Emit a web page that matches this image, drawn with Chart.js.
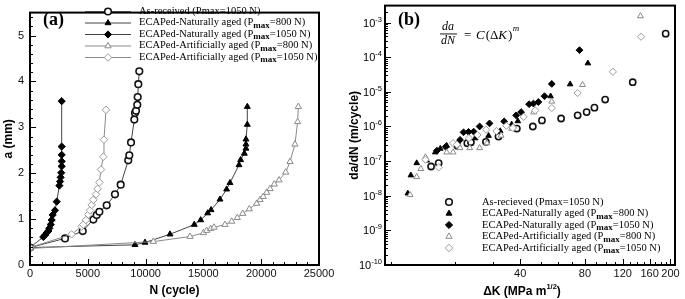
<!DOCTYPE html>
<html><head><meta charset="utf-8">
<script src="https://cdn.jsdelivr.net/npm/chart.js@4.4.1/dist/chart.umd.min.js"></script>
<style>
html,body{margin:0;padding:0;background:#fff;}
#wrap{position:relative;width:685px;height:299px;overflow:hidden;background:#fff;}
#c1wrap{position:absolute;left:0;top:0;width:345px;height:299px;}
#c2wrap{position:absolute;left:345px;top:0;width:340px;height:299px;}
</style></head><body>
<div id="wrap"><div id="c1wrap"><canvas id="c1"></canvas></div><div id="c2wrap"><canvas id="c2"></canvas></div></div>
<script>
// ---------- Panel (a): crack length a (mm) vs N (cycle) ----------
const asRecN = [0, 3030, 4560, 5480, 5770, 6000, 6635, 7350, 7845, 8500, 8590, 8740, 9025, 9080, 9170, 9280, 9315, 9370, 9455];
const asRecA = [0.38, 0.58, 0.74, 0.99, 1.09, 1.16, 1.30, 1.54, 1.75, 2.28, 2.39, 2.67, 3.17, 3.31, 3.36, 3.49, 3.66, 3.94, 4.22];

const nat800N = [0, 9080, 9950, 12110, 14210, 14765, 15370, 15660, 16435, 17010, 17300, 18080, 18220, 18540, 18680, 18680, 18680, 18800, 18800];
const nat800A = [0.38, 0.44, 0.49, 0.67, 0.88, 0.98, 1.13, 1.20, 1.43, 1.65, 1.79, 2.18, 2.29, 2.43, 2.54, 2.63, 2.74, 3.06, 3.45];

const nat1050N = [0, 1150, 1300, 1440, 1585, 1670, 1790, 1875, 1960, 2160, 2310, 2540, 2600, 2650, 2700, 2740, 2740, 2740, 2740, 2740];
const nat1050A = [0.38, 0.61, 0.65, 0.70, 0.74, 0.80, 0.88, 0.98, 1.09, 1.19, 1.38, 1.73, 1.82, 1.91, 2.01, 2.15, 2.26, 2.40, 2.58, 3.57];

const art800N = [0, 10670, 13840, 15000, 15280, 15630, 15920, 16870, 17450, 17930, 18400, 18970, 19610, 19900, 20180, 20470, 20760, 21130, 21540, 22120, 22490, 22920, 23150, 23210];
const art800A = [0.36, 0.51, 0.62, 0.70, 0.75, 0.79, 0.82, 0.88, 0.95, 1.03, 1.12, 1.22, 1.34, 1.42, 1.49, 1.58, 1.66, 1.76, 1.85, 2.02, 2.25, 2.63, 3.12, 3.45];

const art1050N = [0, 3600, 4470, 4610, 4840, 5050, 5190, 5340, 5480, 5710, 5850, 6000, 6140, 6340, 6400, 6575];
const art1050A = [0.38, 0.67, 0.84, 0.88, 0.98, 1.10, 1.19, 1.31, 1.42, 1.54, 1.66, 1.80, 2.08, 2.36, 2.73, 3.38];

const aXTicks = [0, 5000, 10000, 15000, 20000, 25000];
const aYTicks = [0, 1, 2, 3, 4, 5];

// ---------- Panel (b): da/dN (m/cycle) vs ΔK ----------
const bAsRecK = [15.4, 16.7, 20.4, 22.7, 23.6, 27.7, 31.7, 38.6, 45.8, 50.5, 62, 74, 81.5, 88.6, 99.4, 133.5, 190];
const bAsRecR = [7.0e-8, 8.8e-8, 2.8e-7, 3.3e-7, 3.5e-7, 3.6e-7, 5.1e-7, 8.7e-7, 1.0e-6, 1.5e-6, 1.7e-6, 2.1e-6, 2.6e-6, 3.5e-6, 6.0e-6, 1.9e-5, 4.8e-4];

const bNat800K = [12.0, 12.4, 13.2, 14.7, 16.1, 17.0, 18.2, 24.7, 28.5, 32.3, 36.5, 39.0, 55.4, 68.3, 82.6];
const bNat800R = [1.17e-8, 3.9e-8, 8.8e-8, 1.05e-7, 1.8e-7, 2.3e-7, 2.8e-7, 4.6e-7, 5.4e-7, 7.4e-7, 1.15e-6, 1.43e-6, 7.5e-6, 1.66e-5, 6.7e-5];

const bNat1050K = [16.4, 18.0, 21.0, 21.8, 23.0, 24.3, 25.9, 28.8, 33.7, 38.3, 40.4, 44.0, 46.1, 48.6, 51.9, 56.1, 75.5];
const bNat1050R = [2.0e-7, 2.6e-7, 4.1e-7, 6.8e-7, 7.0e-7, 7.1e-7, 1.0e-6, 1.23e-6, 1.4e-6, 2.1e-6, 2.6e-6, 4.4e-6, 4.6e-6, 5.1e-6, 7.5e-6, 1.7e-5, 1.6e-4];

const bArt800K = [12.3, 13.2, 13.8, 14.5, 18.2, 19.5, 21.0, 23.3, 25.9, 28.0, 32.6, 36.5, 37.2, 46.2, 56.1, 78.0, 145];
const bArt800R = [1.06e-8, 3.5e-8, 6.0e-8, 1.3e-7, 1.8e-7, 1.8e-7, 2.4e-7, 2.4e-7, 2.4e-7, 3.3e-7, 5.5e-7, 8.7e-7, 1.0e-6, 2.6e-6, 5.3e-6, 1.6e-5, 1.55e-3];

const bArt1050K = [14.5, 16.7, 19.5, 20.3, 23.1, 25.3, 27.8, 31.0, 34.5, 37.0, 41.5, 47.0, 56.1, 74.0, 108, 146];
const bArt1050R = [1.1e-7, 6.6e-8, 3.3e-7, 3.0e-7, 4.6e-7, 5.7e-7, 8.1e-7, 7.4e-7, 1.05e-6, 9.1e-7, 1.9e-6, 2.9e-6, 3.4e-6, 9.3e-6, 3.8e-5, 3.9e-4];

const bXTicks = [40, 80, 120, 160, 200];
const bYExp = [-10, -9, -8, -7, -6, -5, -4, -3];

// ---------- helpers ----------
const SANS = '"Liberation Sans", Arial, sans-serif';
const SERIF = '"Liberation Serif", "Times New Roman", serif';
const zip = (xs, ys) => xs.map((x, i) => ({x: x, y: ys[i]}));

const styles = [
  {pointStyle: 'circle', radius: 3.3, bg: '#ffffff', border: '#111', line: '#444', bw: 1.6},
  {pointStyle: 'triangle', radius: 3.4, bg: '#000', border: '#000', line: '#444', bw: 1},
  {pointStyle: 'rectRot', radius: 3.6, bg: '#000', border: '#000', line: '#444', bw: 1},
  {pointStyle: 'triangle', radius: 3.6, bg: '#ffffff', border: '#8a8a8a', line: '#8a8a8a', bw: 1},
  {pointStyle: 'rectRot', radius: 3.8, bg: '#ffffff', border: '#9a9a9a', line: '#8a8a8a', bw: 1}
];

function mkDs(label, data, st, showLine) {
  return {
    label: label, data: data, showLine: showLine,
    borderColor: st.line, borderWidth: 1, backgroundColor: st.bg,
    pointStyle: st.pointStyle, pointRadius: st.radius,
    pointBackgroundColor: st.bg, pointBorderColor: st.border, pointBorderWidth: st.bw,
    tension: 0, fill: false
  };
}

function drawMarker(ctx, st, x, y) {
  ctx.save();
  ctx.fillStyle = st.bg; ctx.strokeStyle = st.border; ctx.lineWidth = st.bw;
  Chart.helpers.drawPoint(ctx, {pointStyle: st.pointStyle, radius: st.radius, rotation: 0, borderWidth: st.bw}, x, y);
  ctx.restore();
}

// text with subscript parts
function drawRich(ctx, parts, x, y, size, subSize) {
  let cx = x;
  parts.forEach(p => {
    if (p[1] === 'sub') {
      ctx.font = 'bold ' + subSize + 'px ' + SERIF;
      ctx.fillText(p[0], cx, y + 3);
    } else {
      ctx.font = size + 'px ' + SERIF;
      ctx.fillText(p[0], cx, y);
    }
    cx += ctx.measureText(p[0]).width;
  });
}

function legendParts(i, recieved) {
  const L = [
    [[recieved ? 'As-recieved (Pmax=1050 N)' : 'As-received (Pmax=1050 N)', '']],
    [['ECAPed-Naturally aged (P', ''], ['max', 'sub'], ['=800 N)', '']],
    [['ECAPed-Naturally aged (P', ''], ['max', 'sub'], ['=1050 N)', '']],
    [['ECAPed-Artificially aged (P', ''], ['max', 'sub'], ['=800 N)', '']],
    [['ECAPed-Artificially aged (P', ''], ['max', 'sub'], ['=1050 N)', '']]
  ];
  return L[i];
}

// frame + inward ticks
function drawFrameTicks(chart, cfg) {
  const ctx = chart.ctx, a = chart.chartArea;
  const xs = chart.scales.x, ys = chart.scales.y;
  ctx.save();
  ctx.strokeStyle = '#000';
  ctx.lineWidth = 1;
  ctx.beginPath();
  cfg.xMajor.forEach(v => { const p = Math.round(xs.getPixelForValue(v)) + 0.5; ctx.moveTo(p, a.bottom); ctx.lineTo(p, a.bottom - 6); });
  cfg.xMinor.forEach(v => { const p = Math.round(xs.getPixelForValue(v)) + 0.5; ctx.moveTo(p, a.bottom); ctx.lineTo(p, a.bottom - 3); });
  cfg.yMajor.forEach(v => { const p = Math.round(ys.getPixelForValue(v)) + 0.5; ctx.moveTo(a.left, p); ctx.lineTo(a.left + 6, p); });
  cfg.yMinor.forEach(v => { const p = Math.round(ys.getPixelForValue(v)) + 0.5; ctx.moveTo(a.left, p); ctx.lineTo(a.left + 3, p); });
  ctx.stroke();
  ctx.lineWidth = 2;
  ctx.strokeRect(a.left, a.top, a.right - a.left, a.bottom - a.top);
  ctx.restore();
}

// ---------- Chart (a) ----------
const aMinorX = []; for (let v = 1000; v < 25000; v += 1000) if (v % 5000) aMinorX.push(v);
const aMinorY = []; for (let v = 0.2; v < 5.5; v += 0.2) { const r = Math.round(v * 10) / 10; if (Math.abs(r - Math.round(r)) > 0.01) aMinorY.push(r); }

const plugA = {
  id: 'plugA',
  afterDraw(chart) {
    const ctx = chart.ctx, a = chart.chartArea;
    drawFrameTicks(chart, {xMajor: aXTicks, xMinor: aMinorX, yMajor: aYTicks, yMinor: aMinorY});
    ctx.save();
    ctx.fillStyle = '#000';
    ctx.font = 'bold 18px ' + SERIF; ctx.textBaseline = 'alphabetic'; ctx.textAlign = 'left';
    ctx.fillText('(a)', 43, 25);
    ctx.font = 'bold 12px ' + SANS; ctx.textAlign = 'center'; ctx.textBaseline = 'middle';
    ctx.fillText('N (cycle)', (a.left + a.right) / 2, 291);
    ctx.save(); ctx.translate(9, (a.top + a.bottom) / 2); ctx.rotate(-Math.PI / 2);
    ctx.fillText('a (mm)', 0, 0); ctx.restore();
    const rows = [11, 22.5, 34, 45.5, 57];
    ctx.textAlign = 'left'; ctx.textBaseline = 'middle';
    rows.forEach((y, i) => {
      const st = styles[i];
      ctx.strokeStyle = st.line; ctx.lineWidth = 1;
      ctx.beginPath(); ctx.moveTo(85, y + 0.5); ctx.lineTo(131, y + 0.5); ctx.stroke();
      drawMarker(ctx, st, 108, y + 0.5);
      ctx.fillStyle = '#000';
      drawRich(ctx, legendParts(i, false), 139, y, 10.5, 9);
    });
    ctx.restore();
  }
};

new Chart(document.getElementById('c1'), {
  type: 'scatter',
  data: {
    datasets: [
      mkDs('As-received (Pmax=1050 N)', zip(asRecN, asRecA), styles[0], true),
      mkDs('ECAPed-Naturally aged (Pmax=800 N)', zip(nat800N, nat800A), styles[1], true),
      mkDs('ECAPed-Naturally aged (Pmax=1050 N)', zip(nat1050N, nat1050A), styles[2], true),
      mkDs('ECAPed-Artificially aged (Pmax=800 N)', zip(art800N, art800A), styles[3], true),
      mkDs('ECAPed-Artificially aged (Pmax=1050 N)', zip(art1050N, art1050A), styles[4], true)
    ].reverse()
  },
  options: {
    responsive: true, maintainAspectRatio: false, animation: false, devicePixelRatio: 1,
    layout: {padding: {left: 0, right: 26, top: 3, bottom: 0}},
    plugins: {legend: {display: false}, tooltip: {enabled: false}},
    scales: {
      x: {
        type: 'linear', min: 0, max: 25000,
        grid: {display: false, drawTicks: false}, border: {display: false},
        afterBuildTicks: s => { s.ticks = aXTicks.map(v => ({value: v})); },
        afterFit: s => { s.height = 34; },
        ticks: {font: {family: SANS, size: 11}, color: '#111', padding: 2, maxRotation: 0, autoSkip: false, includeBounds: false,
          callback: v => String(v)}
      },
      y: {
        type: 'linear', min: 0, max: 5.5,
        grid: {display: false, drawTicks: false}, border: {display: false},
        afterBuildTicks: s => { s.ticks = aYTicks.map(v => ({value: v})); },
        afterFit: s => { s.width = 30; },
        ticks: {font: {family: SANS, size: 11}, color: '#111', padding: 6, autoSkip: false, callback: v => String(v)}
      }
    }
  },
  plugins: [plugA]
});

// ---------- Chart (b) ----------
const bMinorY = []; bYExp.forEach(e => { for (let m = 2; m <= 9; m++) { const v = m * Math.pow(10, e); if (v < 3e-3) bMinorY.push(v); } });
const bMinorX = [10, 20, 30, 50, 60, 70, 90, 100, 110, 130, 140, 150, 170, 180, 190];

const plugB = {
  id: 'plugB',
  afterDraw(chart) {
    const ctx = chart.ctx, a = chart.chartArea, ys = chart.scales.y;
    drawFrameTicks(chart, {xMajor: bXTicks, xMinor: bMinorX, yMajor: bYExp.map(e => Math.pow(10, e)), yMinor: bMinorY});
    ctx.save();
    ctx.fillStyle = '#000';
    bYExp.forEach(e => {
      const y = ys.getPixelForValue(Math.pow(10, e));
      const sup = String(e);
      ctx.font = '7.5px ' + SANS;
      const sw = ctx.measureText(sup).width;
      const right = a.left - 3;
      ctx.textAlign = 'left'; ctx.textBaseline = 'alphabetic';
      ctx.fillText(sup, right - sw, y - 1);
      ctx.font = '11px ' + SANS;
      ctx.textAlign = 'right';
      ctx.fillText('10', right - sw, y + 4);
    });
    ctx.font = 'bold 18px ' + SERIF; ctx.textAlign = 'left'; ctx.textBaseline = 'alphabetic';
    ctx.fillText('(b)', 53, 25);
    // formula
    ctx.font = 'italic 12px ' + SERIF; ctx.textAlign = 'center';
    ctx.fillText('da', 103, 30);
    ctx.fillText('dN', 103, 44);
    ctx.fillRect(95, 33.5, 17, 0.9);
    ctx.textAlign = 'left';
    ctx.font = '13px ' + SERIF; ctx.fillText('=', 119, 39);
    ctx.font = 'italic 13px ' + SERIF; ctx.fillText('C', 131, 39);
    let cx = 131 + ctx.measureText('C').width + 1;
    ctx.font = '13px ' + SERIF; ctx.fillText('(\u0394', cx, 39); cx += ctx.measureText('(\u0394').width;
    ctx.font = 'italic 13px ' + SERIF; ctx.fillText('K', cx, 39); cx += ctx.measureText('K').width + 1;
    ctx.font = '13px ' + SERIF; ctx.fillText(')', cx, 39); cx += ctx.measureText(')').width;
    ctx.font = 'italic 9px ' + SERIF; ctx.fillText('m', cx + 0.5, 31);
    // axis titles
    ctx.font = 'bold 12px ' + SANS; ctx.textBaseline = 'alphabetic'; ctx.textAlign = 'left';
    const t1 = '\u0394K (MPa m', t2 = '1/2', t3 = ')';
    const w1 = ctx.measureText(t1).width, w3 = ctx.measureText(t3).width;
    ctx.font = 'bold 7.5px ' + SANS; const w2 = ctx.measureText(t2).width;
    let sx = 177 - (w1 + w2 + w3) / 2;
    ctx.font = 'bold 12px ' + SANS; ctx.fillText(t1, sx, 295);
    ctx.font = 'bold 7.5px ' + SANS; ctx.fillText(t2, sx + w1, 289);
    ctx.font = 'bold 12px ' + SANS; ctx.fillText(t3, sx + w1 + w2, 295);
    ctx.textAlign = 'center'; ctx.textBaseline = 'middle';
    ctx.save(); ctx.translate(10, (a.top + a.bottom) / 2); ctx.rotate(-Math.PI / 2);
    ctx.fillText('da/dN (m/cycle)', 0, 0); ctx.restore();
    // legend
    const rows = [202, 213.5, 225, 236.5, 248];
    ctx.textAlign = 'left'; ctx.textBaseline = 'middle';
    rows.forEach((y, i) => {
      drawMarker(ctx, styles[i], 104, y);
      ctx.fillStyle = '#000';
      drawRich(ctx, legendParts(i, true), 137, y, 10.5, 9);
    });
    ctx.restore();
  }
};

const bStyles = styles.map(s => Object.assign({}, s, {radius: s.radius - 0.2}));
new Chart(document.getElementById('c2'), {
  type: 'scatter',
  data: {
    datasets: [
      mkDs('As-recieved (Pmax=1050 N)', zip(bAsRecK, bAsRecR), bStyles[0], false),
      mkDs('ECAPed-Naturally aged (Pmax=800 N)', zip(bNat800K, bNat800R), bStyles[1], false),
      mkDs('ECAPed-Naturally aged (Pmax=1050 N)', zip(bNat1050K, bNat1050R), bStyles[2], false),
      mkDs('ECAPed-Artificially aged (Pmax=800 N)', zip(bArt800K, bArt800R), bStyles[3], false),
      mkDs('ECAPed-Artificially aged (Pmax=1050 N)', zip(bArt1050K, bArt1050R), bStyles[4], false)
    ].reverse()
  },
  options: {
    responsive: true, maintainAspectRatio: false, animation: false, devicePixelRatio: 1,
    layout: {padding: {left: 0, right: 10, top: 3, bottom: 0}},
    plugins: {legend: {display: false}, tooltip: {enabled: false}},
    scales: {
      x: {
        type: 'logarithmic', min: 9.4, max: 210,
        grid: {display: false, drawTicks: false}, border: {display: false},
        afterBuildTicks: s => { s.ticks = bXTicks.map(v => ({value: v})); },
        afterFit: s => { s.height = 34; },
        ticks: {font: {family: SANS, size: 11}, color: '#111', padding: 2, maxRotation: 0, autoSkip: false, callback: v => String(v)}
      },
      y: {
        type: 'logarithmic', min: 1e-10, max: 3.1e-3,
        grid: {display: false, drawTicks: false}, border: {display: false},
        afterFit: s => { s.width = 40; },
        ticks: {display: false}
      }
    }
  },
  plugins: [plugB]
});
</script>
</body></html>
